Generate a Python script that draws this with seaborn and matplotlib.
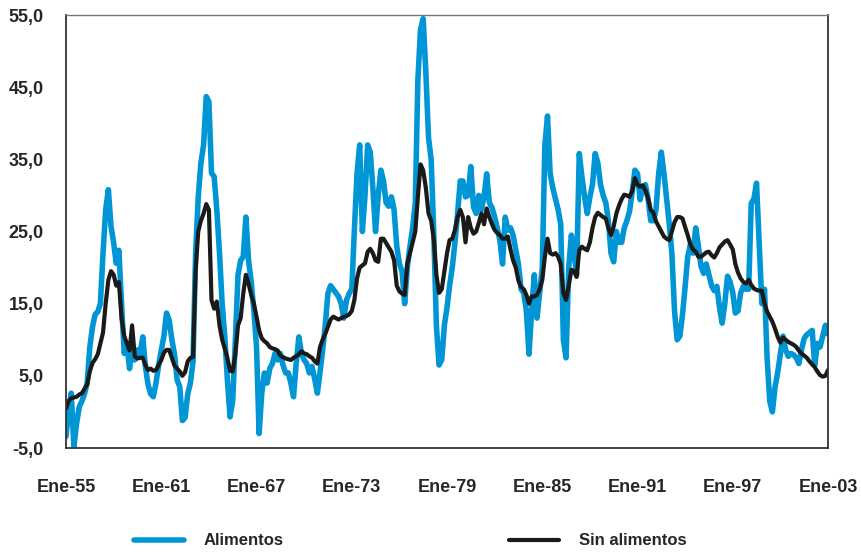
import numpy as np
import pandas as pd
import seaborn as sns
import matplotlib.pyplot as plt

# bimonthly values (Jan, Mar, May, Jul, Sep, Nov), one row per year, 1955 -> Jan 2003
alimentos = [
    -3.4, 0.3, 2.6, -4.8, -1.6, 0.7,      # 1955
    1.5, 2.5, 4.0, 9.0, 11.8, 13.5,       # 1956
    13.9, 15.0, 22.0, 28.0, 30.8, 25.7,   # 1957
    23.4, 20.6, 22.4, 15.0, 8.1, 9.5,     # 1958
    6.0, 9.0, 7.2, 8.6, 8.0, 10.4,        # 1959
    6.3, 3.8, 2.5, 2.1, 4.0, 6.5,         # 1960
    8.5, 10.5, 13.7, 12.7, 10.0, 8.0,     # 1961
    4.4, 3.5, -1.2, -0.8, 2.5, 4.0,       # 1962
    7.0, 22.0, 29.8, 34.5, 37.0, 43.7,    # 1963
    43.0, 33.1, 32.6, 28.0, 22.0, 15.0,   # 1964
    10.4, 4.5, -0.7, 1.5, 10.0, 19.0,     # 1965
    21.0, 21.5, 27.0, 21.0, 18.0, 14.0,   # 1966
    9.0, -3.0, 2.6, 5.4, 4.0, 6.0,        # 1967
    6.7, 8.1, 7.2, 8.1, 6.5, 5.4,         # 1968
    5.4, 4.0, 2.1, 6.7, 10.4, 8.0,        # 1969
    7.2, 6.7, 5.4, 6.3, 4.5, 2.6,         # 1970
    5.5, 8.5, 12.0, 16.4, 17.5, 17.0,     # 1971
    16.5, 16.0, 15.0, 13.0, 15.5, 16.4,   # 1972
    17.0, 25.2, 33.0, 37.0, 25.0, 30.0,   # 1973
    37.0, 36.0, 31.0, 25.0, 30.0, 33.5,   # 1974
    32.0, 29.0, 28.5, 29.8, 28.0, 23.0,   # 1975
    20.5, 19.5, 15.0, 20.0, 23.0, 25.5,   # 1976
    29.0, 46.0, 53.0, 54.5, 47.0, 38.0,   # 1977
    35.0, 25.0, 12.0, 6.5, 7.2, 12.0,     # 1978
    14.5, 17.5, 20.0, 23.4, 27.5, 32.0,   # 1979
    32.0, 29.8, 30.0, 34.0, 28.4, 27.5,   # 1980
    30.0, 28.0, 29.8, 33.0, 29.0, 28.3,   # 1981
    27.0, 25.5, 23.8, 20.5, 27.0, 25.2,   # 1982
    25.5, 24.5, 22.5, 20.5, 17.0, 16.5,   # 1983
    14.0, 8.0, 14.0, 19.0, 13.0, 16.5,    # 1984
    20.0, 37.0, 41.0, 33.0, 31.0, 29.5,   # 1985
    28.0, 26.0, 10.0, 7.5, 20.0, 24.5,    # 1986
    22.0, 19.0, 35.8, 32.6, 29.8, 27.5,   # 1987
    29.8, 31.5, 35.8, 34.5, 31.5, 30.0,   # 1988
    29.0, 26.5, 22.0, 20.8, 25.0, 23.5,   # 1989
    23.5, 25.5, 26.5, 27.8, 30.5, 33.5,   # 1990
    33.0, 29.4, 31.0, 31.5, 29.5, 26.5,   # 1991
    26.5, 28.0, 33.0, 36.0, 33.0, 29.5,   # 1992
    26.0, 22.0, 14.0, 10.0, 10.5, 13.5,   # 1993
    17.4, 21.5, 23.2, 22.0, 25.5, 23.0,   # 1994
    20.2, 19.2, 20.5, 19.0, 17.5, 16.8,   # 1995
    17.4, 14.5, 12.3, 15.0, 18.8, 18.0,   # 1996
    16.5, 13.7, 14.0, 16.5, 17.4, 17.0,   # 1997
    17.0, 28.9, 29.5, 31.7, 23.4, 15.0,   # 1998
    17.0, 7.5, 1.5, 0.0, 3.5, 5.5,        # 1999
    8.0, 10.5, 8.6, 7.7, 8.1, 7.9,        # 2000
    7.5, 6.7, 8.6, 10.2, 10.7, 11.0,      # 2001
    11.3, 6.5, 9.5, 9.0, 10.5, 12.0,      # 2002
    10.8,                                 # Jan 2003
]

sin_alimentos = [
    0.5, 1.5, 1.9, 2.0, 2.1, 2.4,         # 1955
    2.6, 3.2, 3.8, 5.6, 6.8, 7.3,         # 1956
    8.0, 9.5, 11.0, 15.0, 18.3, 19.5,     # 1957
    19.0, 17.5, 18.0, 13.0, 10.5, 9.5,    # 1958
    8.5, 12.0, 7.7, 7.4, 7.5, 7.5,        # 1959
    6.5, 5.8, 6.0, 5.7, 5.8, 6.5,         # 1960
    7.2, 8.2, 8.6, 8.6, 7.5, 6.4,         # 1961
    6.0, 5.6, 5.0, 5.5, 7.0, 7.5,         # 1962
    7.6, 19.5, 25.0, 26.5, 27.5, 28.8,    # 1963
    28.0, 15.5, 14.3, 15.3, 12.0, 10.0,   # 1964
    8.8, 7.5, 5.7, 5.6, 8.0, 12.0,        # 1965
    13.0, 16.4, 19.0, 17.8, 16.2, 15.0,   # 1966
    13.2, 11.3, 10.2, 9.8, 9.5, 9.0,      # 1967
    8.8, 8.7, 8.5, 7.8, 7.6, 7.4,         # 1968
    7.3, 7.2, 7.5, 7.7, 8.0, 8.4,         # 1969
    8.1, 8.0, 7.7, 7.5, 7.0, 6.7,         # 1970
    9.0, 10.0, 10.8, 11.8, 12.8, 13.2,    # 1971
    13.0, 12.8, 13.0, 13.2, 13.3, 13.5,   # 1972
    14.0, 15.5, 18.5, 20.0, 20.3, 20.6,   # 1973
    22.2, 22.6, 22.0, 21.0, 20.8, 24.0,   # 1974
    24.0, 23.4, 22.8, 22.2, 21.0, 17.5,   # 1975
    16.7, 16.4, 16.2, 20.5, 22.0, 23.5,   # 1976
    25.0, 29.8, 34.3, 33.5, 31.0, 27.5,   # 1977
    26.5, 24.0, 19.0, 16.5, 17.0, 19.5,   # 1978
    22.0, 23.8, 24.0, 25.2, 27.0, 28.0,   # 1979
    27.0, 23.5, 27.0, 25.5, 24.7, 25.0,   # 1980
    26.2, 27.5, 26.0, 28.2, 27.0, 26.0,   # 1981
    25.2, 24.8, 24.5, 24.0, 24.0, 24.3,   # 1982
    22.5, 21.0, 20.0, 18.2, 17.3, 17.0,   # 1983
    16.2, 15.0, 16.0, 16.0, 16.2, 17.0,   # 1984
    18.3, 21.5, 24.0, 22.0, 21.8, 22.0,   # 1985
    21.5, 20.5, 16.5, 15.5, 17.5, 19.7,   # 1986
    19.5, 18.7, 22.4, 22.9, 22.6, 22.4,   # 1987
    23.5, 25.5, 27.0, 27.6, 27.3, 27.0,   # 1988
    26.8, 25.5, 24.5, 25.7, 27.5, 28.6,   # 1989
    29.5, 30.1, 30.0, 29.8, 30.6, 32.4,   # 1990
    31.5, 31.2, 31.4, 30.7, 29.6, 28.0,   # 1991
    27.6, 26.4, 25.7, 25.0, 24.3, 24.0,   # 1992
    23.8, 25.0, 26.3, 27.0, 27.0, 26.8,   # 1993
    25.6, 24.5, 23.2, 22.5, 22.2, 21.5,   # 1994
    21.5, 21.8, 22.1, 22.2, 21.7, 21.4,   # 1995
    22.0, 22.8, 23.2, 23.6, 23.8, 23.2,   # 1996
    22.5, 20.5, 19.3, 18.5, 18.0, 17.8,   # 1997
    18.3, 17.6, 17.1, 16.9, 16.8, 16.8,   # 1998
    15.0, 13.9, 13.2, 12.5, 11.5, 10.4,   # 1999
    9.6, 10.3, 10.0, 9.7, 9.5, 9.3,       # 2000
    9.0, 8.5, 8.1, 7.8, 7.5, 7.0,         # 2001
    6.6, 6.2, 5.6, 5.1, 4.9, 5.0,         # 2002
    5.8,                                  # Jan 2003
]

tick_years = list(range(1955, 2004, 3))
tick_labels = ["Ene-55", "", "Ene-61", "", "Ene-67", "", "Ene-73", "", "Ene-79", "",
               "Ene-85", "", "Ene-91", "", "Ene-97", "", "Ene-03"]
y_ticks = [-5, 5, 15, 25, 35, 45, 55]
y_labels = ["-5,0", "5,0", "15,0", "25,0", "35,0", "45,0", "55,0"]

dates = pd.date_range("1955-01-01", periods=len(alimentos), freq="2MS")
df = pd.DataFrame({"fecha": dates, "Alimentos": alimentos, "Sin alimentos": sin_alimentos})

sns.set_theme(style="white")
plt.rcParams["font.family"] = ["Liberation Sans", "DejaVu Sans"]

fig = plt.figure(figsize=(8.61, 5.52), dpi=100)
ax = fig.add_axes([0.0767, 0.1884, 0.885, 0.7844])

sns.lineplot(data=df, x="fecha", y="Alimentos", ax=ax, color="#0096D6", linewidth=3.2,
             label="Alimentos", legend=False)
sns.lineplot(data=df, x="fecha", y="Sin alimentos", ax=ax, color="#1a1a1a", linewidth=1.8,
             label="Sin alimentos", legend=False)

ax.set_xlim(pd.Timestamp("1955-01-01"), pd.Timestamp("2003-01-01"))
ax.set_ylim(-5, 55)
ax.set_xticks([pd.Timestamp(f"{y}-01-01") for y in tick_years])
ax.set_xticklabels(tick_labels, fontsize=13, fontweight="bold")
ax.set_yticks(y_ticks)
ax.set_yticklabels(y_labels, fontsize=13, fontweight="bold")
ax.set_xlabel("")
ax.set_ylabel("")
ax.tick_params(axis="x", direction="in", length=5, width=1.2, color="#333333", pad=22)
ax.tick_params(axis="y", direction="in", length=6, width=1.2, color="#333333", pad=16)

for side in ["left", "bottom", "right"]:
    ax.spines[side].set_color("#333333")
    ax.spines[side].set_linewidth(1.3)
ax.spines["top"].set_color("#777777")
ax.spines["top"].set_linewidth(1.0)

handles, labels = ax.get_legend_handles_labels()
for h in handles:
    h.set_linewidth(4 if h.get_label() == "Alimentos" else 3)
fig.legend(handles, labels, loc="center", bbox_to_anchor=(0.476, 0.02), ncol=2,
           frameon=False, handlelength=3.0, handletextpad=1.2,
           columnspacing=13.5, prop={"weight": "bold", "size": 12})

fig.savefig("out.png", dpi=100)
